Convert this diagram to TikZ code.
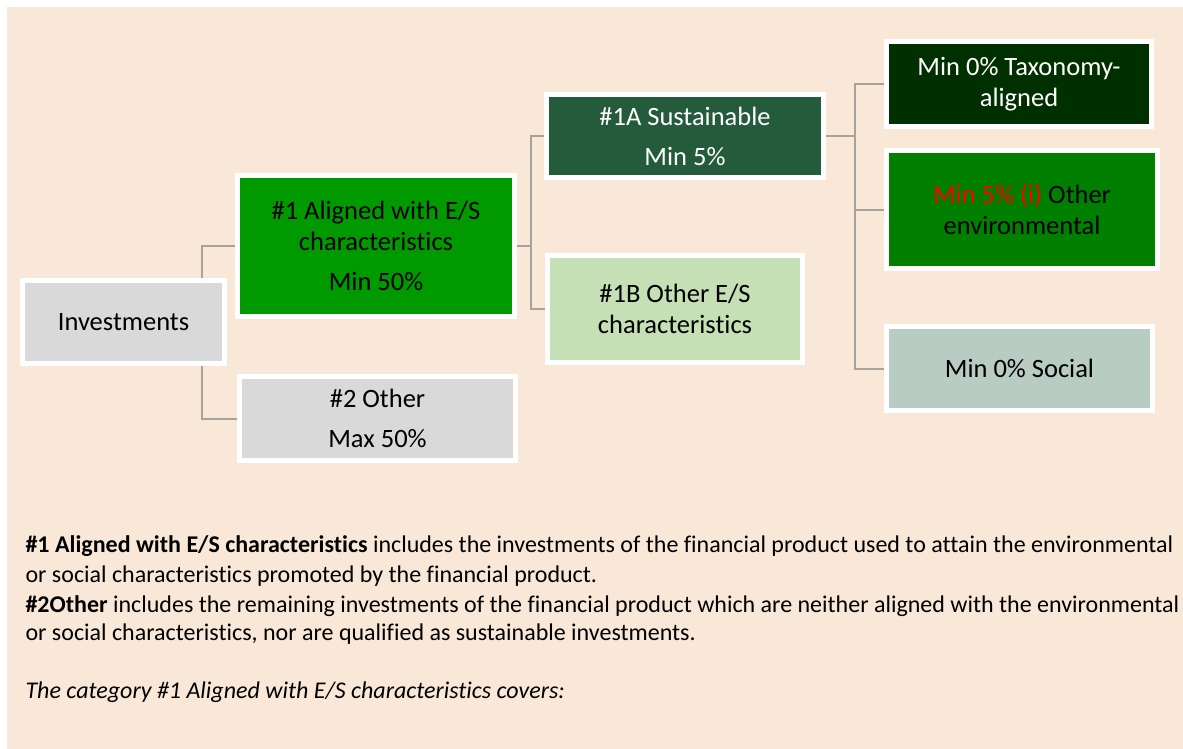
\documentclass[tikz,border=0pt]{standalone}
\usepackage{fontspec}
\setmainfont{Carlito}[Ligatures=CommonOff]
\usepackage{xcolor}
\usepackage{tikz}
\definecolor{esgBg}{HTML}{F9E8D8}
\definecolor{esgGrey}{HTML}{D9D9D9}
\definecolor{esgGreen}{HTML}{009900}
\definecolor{esgSust}{HTML}{245B3B}
\definecolor{esgPale}{HTML}{C5E0B4}
\definecolor{esgTaxo}{HTML}{003000}
\definecolor{esgEnv}{HTML}{007F00}
\definecolor{esgSocial}{HTML}{B8CCC4}
\definecolor{esgLine}{HTML}{A8A29C}
\definecolor{esgRed}{HTML}{FF0000}

\begin{document}
\begin{tikzpicture}[x=1pt,y=-1pt,
  every node/.style={font=\fontsize{26.5}{31}\selectfont},
  box/.style={draw=white, line width=5pt, align=center, inner sep=0pt},
  conn/.style={draw=esgLine, line width=2pt},
  note/.style={anchor=base west, font=\fontsize{24}{29}\selectfont}]
  \useasboundingbox (0,0) rectangle (1183,749);
  \fill[esgBg] (7,7) rectangle (1183,749);
  % left column
  \node[box, fill=esgGrey, minimum width=202pt, minimum height=83pt] (inv) at (123.5,322) {Investments};
  \node[box, fill=esgGreen, minimum width=277pt, minimum height=141pt] (a1) at (376,246) {\#1 Aligned with E/S\\characteristics\\[9pt]Min 50\%};
  \node[box, fill=esgGrey, minimum width=276pt, minimum height=84pt] (o2) at (377.5,418.5) {\#2 Other\\[9pt]Max 50\%};
  % middle column
  \node[box, fill=esgSust, text=white, minimum width=277pt, minimum height=83pt] (s1a) at (685,136) {\#1A Sustainable\\[9pt]Min 5\%};
  \node[box, fill=esgPale, minimum width=255pt, minimum height=107pt] (s1b) at (675,309) {\#1B Other E/S\\characteristics};
  % right column
  \node[box, fill=esgTaxo, text=white, minimum width=265pt, minimum height=85pt] (tax) at (1019,84) {Min 0\% Taxonomy-\\aligned};
  \node[box, fill=esgEnv, minimum width=271pt, minimum height=118pt] (env) at (1022,209.5) {\textcolor{esgRed}{Min 5\% (i)} Other\\environmental};
  \node[box, fill=esgSocial, minimum width=266pt, minimum height=84pt] (soc) at (1019.5,368.5) {Min 0\% Social};
  % elbow connectors
  \coordinate (trunkA) at (202,0);
  \coordinate (trunkB) at (531,0);
  \coordinate (trunkC) at (855,0);
  \draw[conn] (inv.north -| trunkA) |- (a1.west);
  \draw[conn] (inv.south -| trunkA) |- (o2.west);
  \draw[conn] (a1.east) -- (a1.east -| trunkB);
  \draw[conn] (s1a.west) -- (s1a.west -| trunkB) |- (s1b.west);
  \draw[conn] (s1a.east) -- (s1a.east -| trunkC);
  \draw[conn] (tax.west) -- (tax.west -| trunkC) |- (soc.west);
  \draw[conn] (env.west) -- (env.west -| trunkC);
  % notes below
  \foreach \yy/\txt [count=\i] in {
    552/{\textbf{\#1 Aligned with E/S characteristics} includes the investments of the financial product used to attain the environmental},
    582/{or social characteristics promoted by the financial product.},
    612/{\textbf{\#2Other} includes the remaining investments of the financial product which are neither aligned with the environmental},
    640/{or social characteristics, nor are qualified as sustainable investments.},
    698/{\textit{The category \#1 Aligned with E/S characteristics covers:}}} {
    \node[note] (note\i) at (22,\yy) {\txt};
  }
\end{tikzpicture}
\end{document}
